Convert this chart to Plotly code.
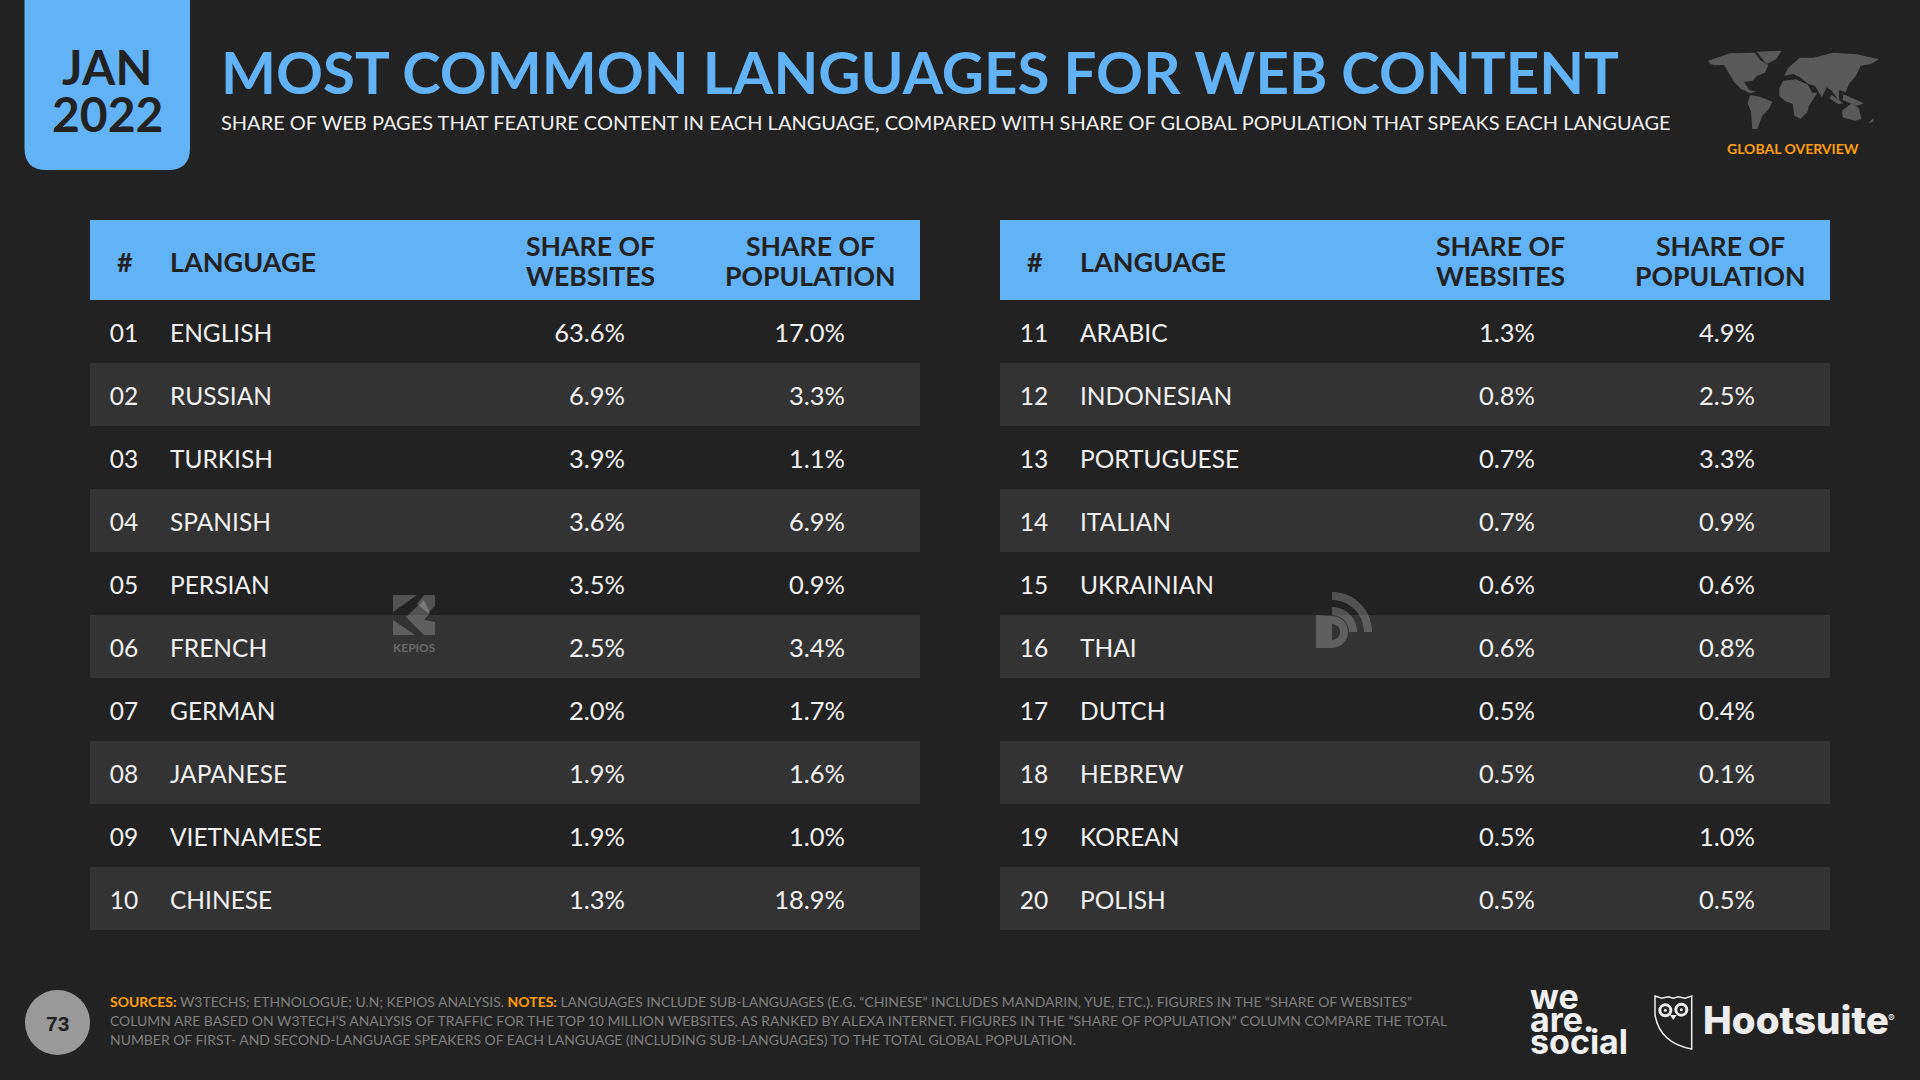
import numpy as np
import plotly.graph_objects as go

# table data
ranks_left = list(range(1, 11))
languages_left = ["ENGLISH", "RUSSIAN", "TURKISH", "SPANISH", "PERSIAN",
                  "FRENCH", "GERMAN", "JAPANESE", "VIETNAMESE", "CHINESE"]
websites_left = [63.6, 6.9, 3.9, 3.6, 3.5, 2.5, 2.0, 1.9, 1.9, 1.3]
population_left = [17.0, 3.3, 1.1, 6.9, 0.9, 3.4, 1.7, 1.6, 1.0, 18.9]

ranks_right = list(range(11, 21))
languages_right = ["ARABIC", "INDONESIAN", "PORTUGUESE", "ITALIAN", "UKRAINIAN",
                   "THAI", "DUTCH", "HEBREW", "KOREAN", "POLISH"]
websites_right = [1.3, 0.8, 0.7, 0.7, 0.6, 0.6, 0.5, 0.5, 0.5, 0.5]
population_right = [4.9, 2.5, 3.3, 0.9, 0.6, 0.8, 0.4, 0.1, 1.0, 0.5]

W, H = 1920, 1080
BG = "#222222"
BAND = "#333333"
BLUE = "#62B2F6"
ORANGE = "#FF9E0C"
TEXT = "#F0F0F0"
FONT = "Lato"

# table geometry in page pixels
TABLE_W = 830
TABLE_TOP, HEAD_BOTTOM, TABLE_BOTTOM = 220, 300, 930
LEFT_X, RIGHT_X = 90, 1000
COL_RANK, COL_LANG, COL_SITES, COL_POP = 34, 80, 535, 755
HEAD_LANG, HEAD_SITES, HEAD_POP = 78, 500, 720

# text sits a bit low in the rows, in rank units
ROW_NUDGE = 0.07


def add_table(fig, x0, ranks, languages, websites, population, xa, ya):
    n = len(ranks)
    band_rows = [r for i, r in enumerate(ranks) if i % 2 == 1]
    fig.add_trace(go.Bar(y=band_rows, x=[TABLE_W] * len(band_rows), base=0, orientation="h",
                         width=1, marker=dict(color=BAND, line_width=0),
                         hoverinfo="skip", xaxis=xa, yaxis=ya))
    labels = [f"{r:02d}" for r in ranks]
    columns = [
        ([COL_RANK] * n, labels, "middle center", 24.5),
        ([COL_LANG] * n, languages, "middle right", 24.5),
        ([COL_SITES] * n, [f"{v:.1f}%" for v in websites], "middle left", 25.5),
        ([COL_POP] * n, [f"{v:.1f}%" for v in population], "middle left", 25.5),
    ]
    ys = [r + ROW_NUDGE for r in ranks]
    for xs, text, pos, size in columns:
        fig.add_trace(go.Scatter(x=xs, y=ys, text=text, mode="text", textposition=pos,
                                 textfont=dict(family=FONT, size=size, color=TEXT),
                                 cliponaxis=False, hoverinfo="skip", xaxis=xa, yaxis=ya))
    fig.update_layout({
        xa.replace("x", "xaxis"): dict(domain=[x0 / W, (x0 + TABLE_W) / W], range=[0, TABLE_W], visible=False, fixedrange=True),
        ya.replace("y", "yaxis"): dict(domain=[1 - TABLE_BOTTOM / H, 1 - HEAD_BOTTOM / H], range=[ranks[-1] + 0.5, ranks[0] - 0.5],
                                       visible=False, fixedrange=True),
    })


def label(x, y, text, size, color=TEXT, anchor="left", weight=None, family=FONT):
    return dict(x=x, y=y, xref="x3", yref="y3", text=text, showarrow=False, xanchor=anchor, yanchor="middle",
                align=anchor, font=dict(family=family, size=size, color=color, weight=weight))


def poly(points, fill, opacity=1.0):
    path = "M" + " L".join(f"{x:.1f},{y:.1f}" for x, y in points) + " Z"
    return dict(type="path", path=path, xref="x3", yref="y3", fillcolor=fill, opacity=opacity,
                line_width=0, layer="above")


def arc(cx, cy, r_out, r_in, a0, a1):
    t = np.radians(np.linspace(a0, a1, 24))
    outer = list(zip(cx + r_out * np.cos(t), cy - r_out * np.sin(t)))
    inner = list(zip(cx + r_in * np.cos(t[::-1]), cy - r_in * np.sin(t[::-1])))
    return outer + inner


fig = go.Figure()
add_table(fig, LEFT_X, ranks_left, languages_left, websites_left, population_left, "x", "y")
add_table(fig, RIGHT_X, ranks_right, languages_right, websites_right, population_right, "x2", "y2")

# page-pixel overlay used for the furniture around the tables
fig.add_trace(go.Scatter(x=[0], y=[0], mode="markers", marker_opacity=0, hoverinfo="skip", xaxis="x3", yaxis="y3"))

shapes = []
annotations = []

# date tab
shapes.append(dict(type="path", xref="x3", yref="y3", fillcolor=BLUE, line_width=0, layer="below",
                   path="M24.5,0 L190,0 L190,148 Q190,170 168,170 L46.5,170 Q24.5,170 24.5,148 Z"))
annotations.append(label(107, 66, "JAN", 48, BG, "center", 700))
annotations.append(label(107, 113, "2022", 48, BG, "center", 700))

# titles
annotations.append(label(219, 71, "MOST COMMON LANGUAGES FOR WEB CONTENT", 58.2, BLUE, weight=700))
annotations.append(label(219, 122, "SHARE OF WEB PAGES THAT FEATURE CONTENT IN EACH LANGUAGE, COMPARED WITH SHARE OF GLOBAL POPULATION THAT SPEAKS EACH LANGUAGE", 20))

# table headers
for x0 in (LEFT_X, RIGHT_X):
    shapes.append(dict(type="rect", xref="x3", yref="y3", x0=x0, x1=x0 + TABLE_W, y0=TABLE_TOP, y1=HEAD_BOTTOM,
                       fillcolor=BLUE, line_width=0, layer="below"))
    annotations.append(label(x0 + 35, 261, "#", 27, BG, "center", 700))
    annotations.append(label(x0 + HEAD_LANG, 261, "LANGUAGE", 27, BG, "left", 700))
    for col, word in ((HEAD_SITES, "WEBSITES"), (HEAD_POP, "POPULATION")):
        annotations.append(label(x0 + col, 246, "SHARE OF", 26.6, BG, "center", 700))
        annotations.append(label(x0 + col, 276, word, 26.6, BG, "center", 700))

# world map, rough continent outlines traced off a 3x crop at (1700, 40)
MAP = "#595959"
map_polys = [
    [(25, 62), (90, 40), (165, 38), (180, 60), (205, 75), (195, 98), (170, 108), (158, 122), (132, 125), (148, 150),
     (168, 155), (150, 160), (122, 146), (102, 125), (86, 98), (72, 75), (45, 76), (30, 72)],
    [(170, 35), (245, 32), (228, 58), (200, 72), (182, 50)],
    [(150, 165), (180, 170), (217, 185), (207, 207), (187, 227), (172, 267), (157, 267), (153, 215), (143, 190)],
    [(238, 145), (250, 122), (287, 118), (322, 133), (337, 158), (352, 158), (327, 197), (322, 217), (302, 236),
     (283, 227), (278, 192), (255, 183), (238, 167)],
    [(253, 107), (265, 83), (300, 53), (340, 53), (400, 38), (470, 43), (537, 58), (512, 72), (482, 77), (468, 107),
     (447, 132), (437, 157), (417, 150), (417, 182), (395, 152), (380, 142), (365, 172), (345, 137), (325, 132),
     (300, 112), (280, 102)],
    [(426, 212), (455, 190), (477, 205), (484, 237), (465, 242), (428, 232)],
    [(395, 165), (430, 190), (415, 192), (388, 175)],
    [(430, 163), (492, 190), (470, 197), (428, 180)],
    [(505, 250), (520, 235), (520, 245)],
]
for points in map_polys:
    shapes.append(poly([(1700 + x / 3, 40 + y / 3) for x, y in points], MAP))
annotations.append(label(1793, 148, "GLOBAL OVERVIEW", 14, ORANGE, "center", 700))

# watermarks
WM = "#FFFFFF"
for points in (
    [(393, 595), (417, 595), (393, 612)],
    [(424, 595), (435, 595), (435, 606), (428, 613), (417, 604)],
    [(406, 617), (424, 600), (430, 613), (424, 620), (435, 622), (435, 635), (424, 635)],
    [(393, 620), (415, 635), (393, 635)],
):
    shapes.append(poly(points, WM, 0.22))
annotations.append(label(414, 647, "KEPIOS", 12, "#6A6A6A", "center", 700))

shapes.append(poly(arc(1332, 632, 40, 32, 0, 90), WM, 0.22))
shapes.append(poly(arc(1332, 632, 25, 17, 0, 90), WM, 0.22))
d_t = np.radians(np.linspace(90, -90, 20))
d_shape = [(1316, 615), *zip(1332 + 16 * np.cos(d_t), 632 - 16 * np.sin(d_t)), (1316, 648)]
shapes.append(poly(d_shape, WM, 0.22))
shapes.append(poly([(1332, 624), *zip(1332 + 8 * np.cos(d_t), 632 - 8 * np.sin(d_t)), (1332, 640)], BAND, 1))

# page number
shapes.append(dict(type="circle", xref="x3", yref="y3", x0=25, x1=90, y0=990, y1=1055, fillcolor="#999999", line_width=0, layer="below"))
annotations.append(label(57.5, 1023, "73", 21, BG, "center", 700, "Liberation Sans"))

# footer
GREY = "#7F7F7F"
footer = [
    f"<b><span style='color:{ORANGE}'>SOURCES:</span></b> W3TECHS; ETHNOLOGUE; U.N; KEPIOS ANALYSIS. <b><span style='color:{ORANGE}'>NOTES:</span></b> LANGUAGES INCLUDE SUB-LANGUAGES (E.G. “CHINESE” INCLUDES MANDARIN, YUE, ETC.). FIGURES IN THE “SHARE OF WEBSITES”",
    "COLUMN ARE BASED ON W3TECH’S ANALYSIS OF TRAFFIC FOR THE TOP 10 MILLION WEBSITES, AS RANKED BY ALEXA INTERNET. FIGURES IN THE “SHARE OF POPULATION” COLUMN COMPARE THE TOTAL",
    "NUMBER OF FIRST- AND SECOND-LANGUAGE SPEAKERS OF EACH LANGUAGE (INCLUDING SUB-LANGUAGES) TO THE TOTAL GLOBAL POPULATION.",
]
for y, line in zip((1001, 1020, 1039), footer):
    annotations.append(label(108, y, line, 13.95, GREY))

# logos
annotations.append(label(1528, 996, "we", 34, "#F0F0F0", "left", 700, "Inter"))
annotations.append(label(1528, 1019, "are.", 34, "#F0F0F0", "left", 700, "Inter"))
annotations.append(label(1528, 1041, "social", 34, "#F0F0F0", "left", 700, "Inter"))
annotations.append(label(1701, 1020, "Hootsuite", 38.5, "#EDEDED", "left", 800, "Inter"))
annotations.append(label(1886, 1018, "®", 10, "#EDEDED", "left", 400, "Inter"))


def owl(x, y):
    return 1640 + x / 3, 985 + y / 3


shield = [(45, 33), (65, 40), (85, 35), (100, 40), (115, 35), (135, 40), (155, 33), (155, 192)]
shield_path = "M" + " L".join("%.1f,%.1f" % owl(x, y) for x, y in shield)
shield_path += " Q%.1f,%.1f %.1f,%.1f Z" % (*owl(60, 175), *owl(45, 90))
shapes.append(dict(type="path", xref="x3", yref="y3", line=dict(color="#EDEDED", width=1.5), layer="above", path=shield_path))
for cx, cy in ((76, 76), (124, 74)):
    x, y = owl(cx, cy)
    shapes.append(dict(type="circle", xref="x3", yref="y3", x0=x - 7, x1=x + 7, y0=y - 7, y1=y + 7,
                       fillcolor="#EDEDED", line_width=0, layer="above"))
    shapes.append(dict(type="circle", xref="x3", yref="y3", x0=x - 4, x1=x + 4, y0=y - 4, y1=y + 4,
                       fillcolor=BG, line_width=0, layer="above"))
    shapes.append(dict(type="circle", xref="x3", yref="y3", x0=x - 1.5, x1=x + 1.5, y0=y - 1.5, y1=y + 1.5,
                       fillcolor="#EDEDED", line_width=0, layer="above"))
shapes.append(poly([owl(90, 90), owl(110, 90), owl(100, 105)], "#EDEDED"))

fig.update_layout(
    width=W, height=H,
    margin=dict(l=0, r=0, t=0, b=0),
    paper_bgcolor=BG, plot_bgcolor="rgba(0,0,0,0)",
    showlegend=False, barmode="overlay",
    xaxis3=dict(domain=[0, 1], range=[0, W], visible=False, fixedrange=True),
    yaxis3=dict(domain=[0, 1], range=[H, 0], visible=False, fixedrange=True),
    shapes=shapes, annotations=annotations,
)

fig.write_html("out.html", config=dict(displayModeBar=False),
               post_script="document.body.style.margin='0';document.body.style.overflow='hidden';")
